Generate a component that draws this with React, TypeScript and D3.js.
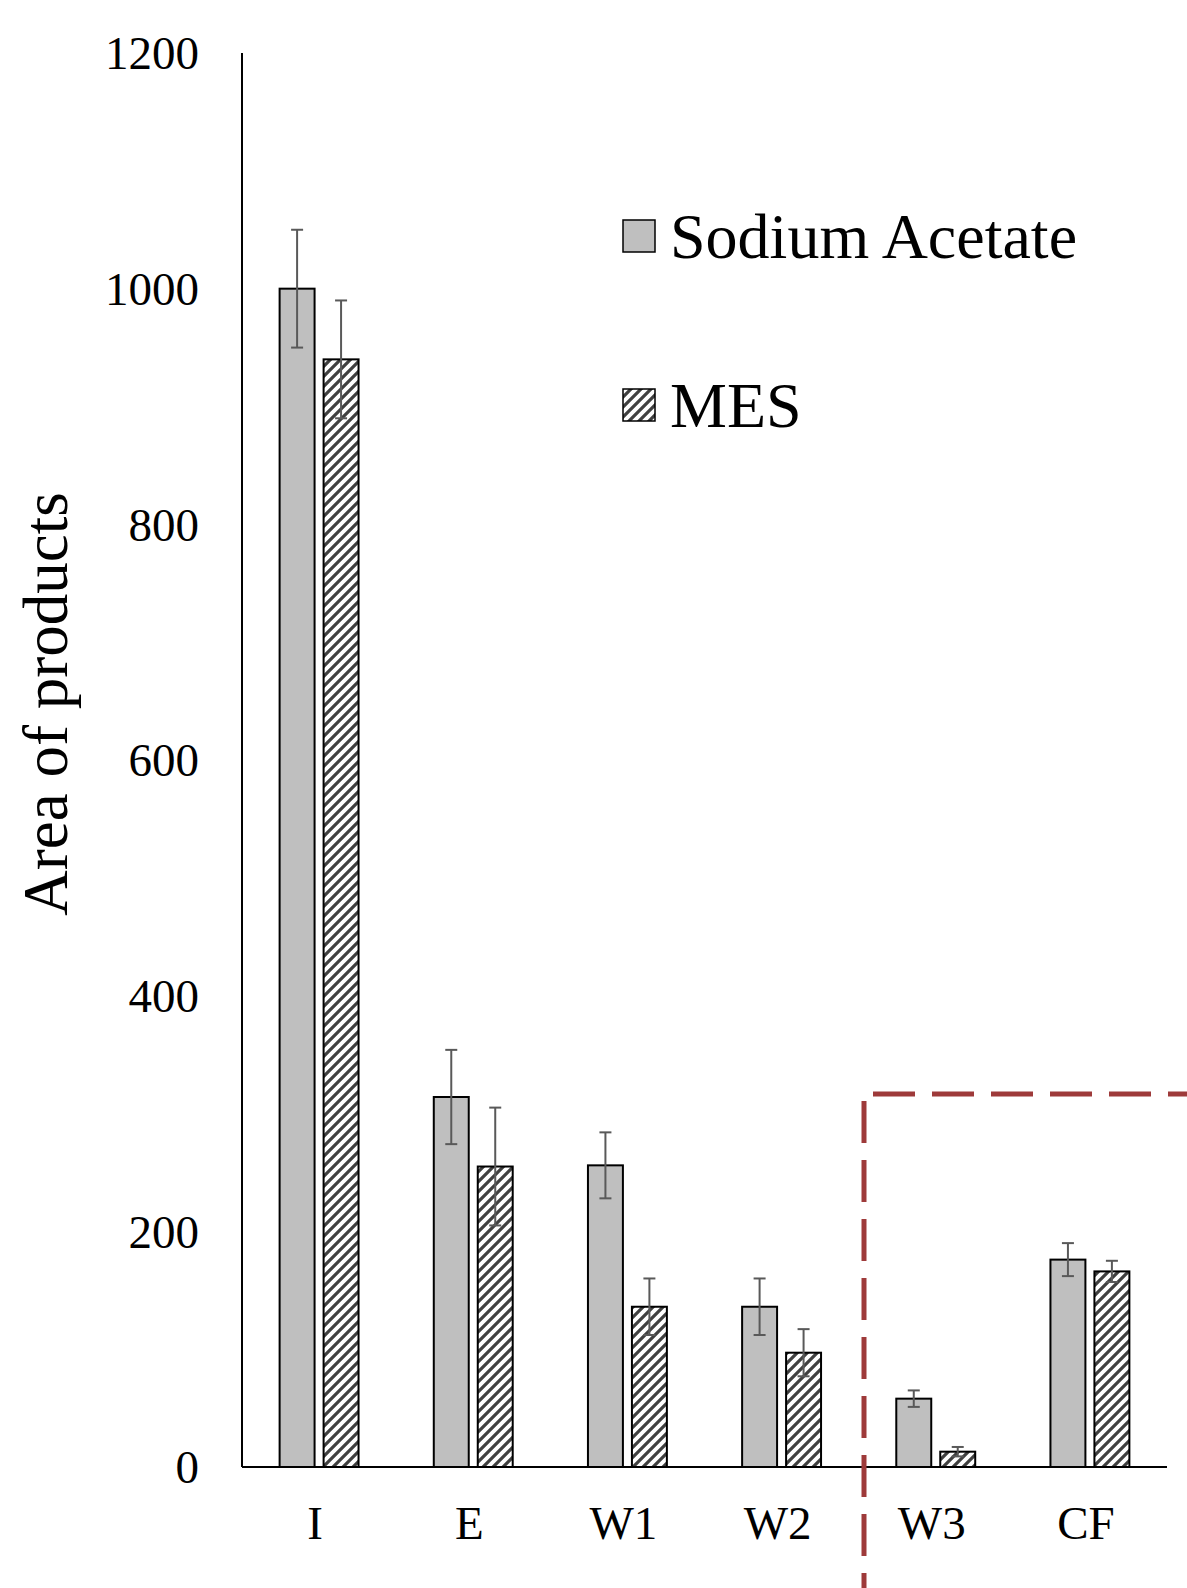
import React from 'react';
import * as d3 from 'd3';

const categories = ['I', 'E', 'W1', 'W2', 'W3', 'CF'];
const seriesNames = ['Sodium Acetate', 'MES'];
const sodiumValues = [1000, 314, 256, 136, 58, 176];
const sodiumErrors = [50, 40, 28, 24, 7, 14];
const mesValues = [940, 255, 136, 97, 13, 166];
const mesErrors = [50, 50, 24, 20, 4, 9];
const yTicks = [0, 200, 400, 600, 800, 1000, 1200];

const width = 1187;
const height = 1588;
const margin = { top: 53, right: 20, bottom: 121, left: 242 };
const font = '"Liberation Serif", "Times New Roman", serif';

const App = () => {
  const xScale = d3.scaleBand()
    .domain(categories)
    .range([margin.left, 1167]);

  const yScale = d3.scaleLinear()
    .domain([0, 1200])
    .range([height - margin.bottom, margin.top]);

  const bw = xScale.bandwidth();
  const groupW = bw * 0.512;
  const inner = d3.scaleBand()
    .domain(seriesNames)
    .range([bw / 2 - groupW / 2, bw / 2 + groupW / 2])
    .paddingInner(0.205);

  const series = [
    { name: seriesNames[0], values: sodiumValues, errors: sodiumErrors, fill: '#bfbfbf' },
    { name: seriesNames[1], values: mesValues, errors: mesErrors, fill: 'url(#hatch)' },
  ];

  const y0 = yScale(0);
  const capW = 12;

  return (
    <svg width={width} height={height} style={{ position: 'absolute', left: 0, top: 0, background: '#fff' }}>
      <defs>
        <pattern id="hatch" patternUnits="userSpaceOnUse" width="10" height="10">
          <rect width="10" height="10" fill="#fff" />
          <path d="M0,10 L10,0 M-2,2 L2,-2 M8,12 L12,8" stroke="#404040" strokeWidth="3.2" />
        </pattern>
      </defs>

      {/* y tick labels */}
      {yTicks.map(t => (
        <text key={t} x={199} y={yScale(t)} dy="0.35em" textAnchor="end"
          fontFamily={font} fontSize={47} fill="#000">{t}</text>
      ))}

      {/* y axis title */}
      <text transform={`translate(67,704) rotate(-90)`} textAnchor="middle"
        fontFamily={font} fontSize={63} fill="#000">Area of products</text>

      {/* bars */}
      {series.map(s => categories.map((c, i) => {
        const x = (xScale(c) as number) + (inner(s.name) as number);
        const y = yScale(s.values[i]);
        return (
          <rect key={s.name + c} x={x} y={y} width={inner.bandwidth()} height={y0 - y}
            fill={s.fill} stroke="#000" strokeWidth={2} />
        );
      }))}

      {/* error bars */}
      {series.map(s => categories.map((c, i) => {
        const cx = (xScale(c) as number) + (inner(s.name) as number) + inner.bandwidth() / 2;
        const yt = yScale(s.values[i] + s.errors[i]);
        const yb = yScale(s.values[i] - s.errors[i]);
        return (
          <g key={'e' + s.name + c} stroke="#595959" strokeWidth={2}>
            <line x1={cx} x2={cx} y1={yt} y2={yb} />
            <line x1={cx - capW / 2} x2={cx + capW / 2} y1={yt} y2={yt} />
            <line x1={cx - capW / 2} x2={cx + capW / 2} y1={yb} y2={yb} />
          </g>
        );
      }))}

      {/* axes */}
      <line x1={margin.left} x2={margin.left} y1={margin.top} y2={y0} stroke="#000" strokeWidth={2} />
      <line x1={margin.left} x2={1167} y1={y0} y2={y0} stroke="#000" strokeWidth={2} />

      {/* x labels */}
      {categories.map(c => (
        <text key={c} x={(xScale(c) as number) + bw / 2 - 4} y={1523} dy="0.35em" textAnchor="middle"
          fontFamily={font} fontSize={47} fill="#000">{c}</text>
      ))}

      {/* highlight box */}
      <line x1={864} x2={864} y1={1101} y2={height} stroke="#9e3a3a" strokeWidth={5} strokeDasharray="42,17" />
      <line x1={873} x2={width} y1={1094} y2={1094} stroke="#9e3a3a" strokeWidth={5} strokeDasharray="42,17" />

      {/* legend */}
      {series.map((s, i) => {
        const ly = i === 0 ? 236 : 405;
        return (
          <g key={'l' + s.name}>
            <rect x={623} y={ly - 16} width={32} height={32} fill={s.fill} stroke="#000" strokeWidth={1.5} />
            <text x={670} y={ly} dy="0.35em" fontFamily={font} fontSize={64} fill="#000">{s.name}</text>
          </g>
        );
      })}
    </svg>
  );
};

export default App;
